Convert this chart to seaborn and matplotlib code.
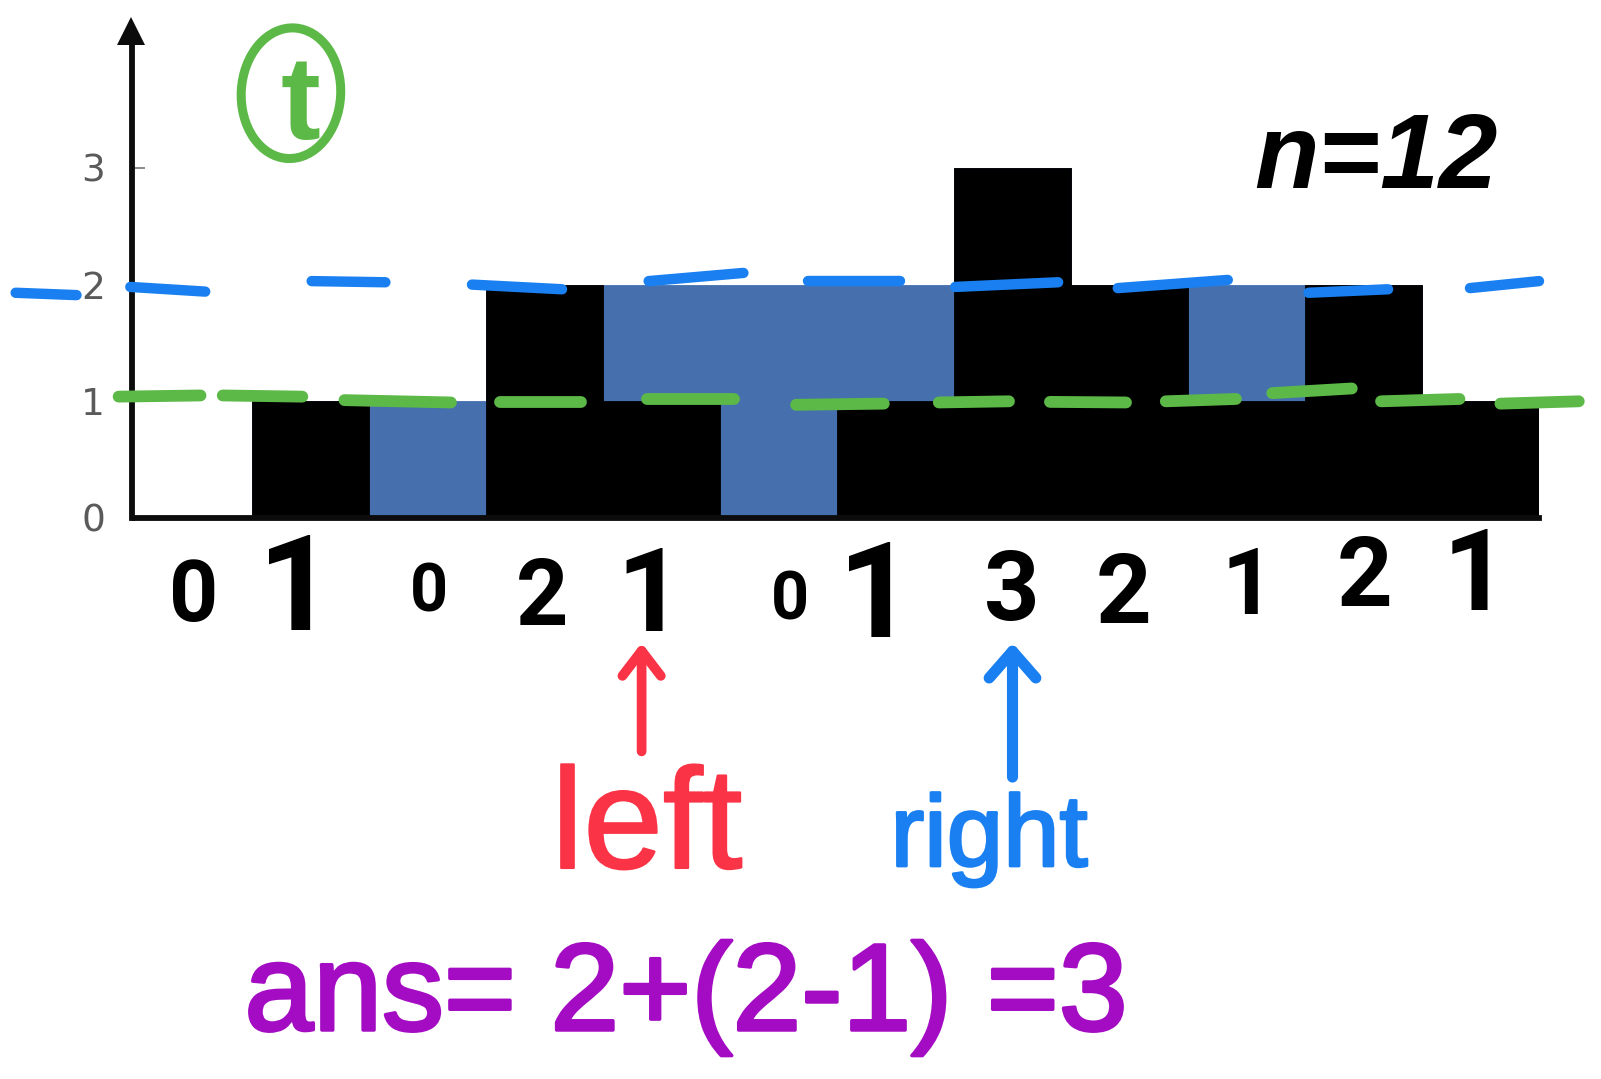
import matplotlib
matplotlib.use("Agg")
import matplotlib.pyplot as plt
import matplotlib.patheffects as pe
from matplotlib.patches import Ellipse
from matplotlib.transforms import ScaledTranslation
import numpy as np
import seaborn as sns

positions = list(range(12))
heights = [0, 1, 0, 2, 1, 0, 1, 3, 2, 1, 2, 1]
water = [0, 0, 1, 0, 1, 2, 1, 0, 0, 1, 0, 0]
y_ticks = [0, 1, 2, 3]
height_labels = ["0", "1", "0", "2", "1", "0", "1", "3", "2", "1", "2", "1"]

blue_x0 = [-1.52, -0.54, 1.01, 2.38, 3.89, 5.25, 6.51, 7.90, 9.53, 10.91]
blue_x1 = [-1.00, 0.10, 1.64, 3.15, 4.70, 6.04, 7.39, 8.84, 10.21, 11.50]
blue_y0 = [1.93, 1.98, 2.03, 2.00, 2.03, 2.03, 1.98, 1.97, 1.93, 1.97]
blue_y1 = [1.91, 1.94, 2.02, 1.96, 2.10, 2.03, 2.02, 2.04, 1.96, 2.03]
green_x0 = [-0.64, 0.25, 1.29, 2.62, 3.88, 5.15, 6.37, 7.32, 8.31, 9.22, 10.15, 11.17]
green_x1 = [0.06, 0.93, 2.20, 3.31, 4.62, 5.90, 6.97, 7.97, 8.91, 9.90, 10.82, 11.84]
green_y0 = [1.04, 1.05, 1.01, 0.995, 1.02, 0.97, 0.99, 0.995, 1.00, 1.07, 1.00, 0.98]
green_y1 = [1.05, 1.04, 0.99, 0.995, 1.02, 0.98, 1.00, 0.99, 1.02, 1.11, 1.02, 1.00]

W, H = 1601, 1079
DPI = 100
BLACK = "#000000"
WATER = "#4570AD"
BLUE = "#1A80F2"
GREEN = "#5CB947"
RED = "#FA3346"
PURPLE = "#A30CC2"

sns.set_theme(style="white")
plt.rcParams["font.family"] = ["Liberation Sans", "DejaVu Sans"]

fig = plt.figure(figsize=(W / DPI, H / DPI), dpi=DPI, facecolor="white")
ax = fig.add_axes([135 / W, 1 - 518 / H, (1539 - 135) / W, (518 - 16) / H])

totals = np.array(heights) + np.array(water)
sns.barplot(x=positions, y=totals, color=WATER, saturation=1, width=1, edgecolor=WATER, linewidth=0.6, ax=ax)
sns.barplot(x=positions, y=heights, color=BLACK, saturation=1, width=1, edgecolor=BLACK, linewidth=0.6, ax=ax)
ax.set_xlim(-0.5, 11.5)
ax.set_ylim(0, (518 - 16) / 116.7)
ax.patch.set_alpha(0)

sns.despine(ax=ax)
ax.spines["left"].set_position(("outward", 2.5))
ax.spines["left"].set_bounds(0, 4.05)
ax.spines["left"].set_linewidth(4.2)
ax.spines["bottom"].set_linewidth(4.2)
ax.spines["left"].set_color("#0c0c0c")
ax.spines["bottom"].set_color("#0c0c0c")
ax.plot([-0.535], [4.17], marker="^", ms=19.5, color="#0c0c0c", mew=0, clip_on=False, zorder=6)

ax.set_yticks(y_ticks)
ax.set_yticklabels([str(v) for v in y_ticks], fontsize=27, color="#5a5a5a", family="DejaVu Sans")
ax.tick_params(axis="y", direction="in", length=9, width=1.2, color="#777777", pad=19, left=True)

# hand-written height digits
digit_sizes = [62, 96, 48, 66, 84, 48, 96, 70, 70, 66, 70, 82]
digit_cx = [194, 296, 429, 542, 650, 790, 876, 1012, 1124, 1248, 1365, 1475]
digit_cy = [589, 580, 586, 590, 587, 595, 587, 584, 587, 579, 570, 567]
ax.set_xticks(positions)
ax.set_xticklabels(height_labels)
ax.tick_params(axis="x", length=0, pad=0, bottom=False)
for i, lab in enumerate(ax.get_xticklabels()):
    lab.set_fontsize(digit_sizes[i])
    lab.set_fontfamily("Roboto")
    lab.set_fontweight("bold")
    lab.set_color(BLACK)
    lab.set_va("center_baseline")
    cx = 135 + 117 * i + 58.5
    off = ScaledTranslation((digit_cx[i] - cx) / DPI, -(digit_cy[i] - 518) / DPI, fig.dpi_scale_trans)
    lab.set_transform(lab.get_transform() + off)
ax.set_xlabel("")
ax.set_ylabel("")

# water-level strokes
for x0, x1, y0, y1 in zip(blue_x0, blue_x1, blue_y0, blue_y1):
    ax.plot([x0, x1], [y0, y1], color=BLUE, lw=7.5, solid_capstyle="round", clip_on=False, zorder=5)
for x0, x1, y0, y1 in zip(green_x0, green_x1, green_y0, green_y1):
    ax.plot([x0, x1], [y0, y1], color=GREEN, lw=8.5, solid_capstyle="round", clip_on=False, zorder=5)

# circled t
ax.add_patch(Ellipse((0.833, 3.64), 0.85, 1.12, fill=False, ec=GREEN, lw=6.5, angle=-3, clip_on=False, zorder=5))
fig.text(300 / W, 1 - 108 / H, "t", color=GREEN, fontsize=86, fontweight="bold", ha="center", va="center")

# pointers
ax.annotate("", xy=(3.83, -1.07), xytext=(3.83, -2.0), annotation_clip=False,
            arrowprops=dict(arrowstyle="->,head_length=1.5,head_width=1.15", color=RED, lw=7,
                            shrinkA=0, shrinkB=0, capstyle="round"))
ax.annotate("", xy=(7.0, -1.07), xytext=(7.0, -2.22), annotation_clip=False,
            arrowprops=dict(arrowstyle="->,head_length=1.6,head_width=1.4", color=BLUE, lw=8,
                            shrinkA=0, shrinkB=0, capstyle="round"))

left_t = fig.text(647 / W, 1 - 831 / H, "left", color=RED, fontsize=103, ha="center", va="center")
right_t = fig.text(989 / W, 1 - 840 / H, "right", color=BLUE, fontsize=73, ha="center", va="center")
ans_t = fig.text(686 / W, 1 - 998 / H, "ans= 2+(2-1) =3", color=PURPLE, fontsize=89, ha="center", va="center")
for t, c, w in [(left_t, RED, 1.5), (right_t, BLUE, 2), (ans_t, PURPLE, 2.5)]:
    t.set_path_effects([pe.withStroke(linewidth=w, foreground=c)])
fig.text(1376 / W, 1 - 160 / H, "n=12", color=BLACK, fontsize=76, fontweight="bold", style="italic",
         ha="center", va="center")

fig.savefig("out.png", dpi=DPI)
